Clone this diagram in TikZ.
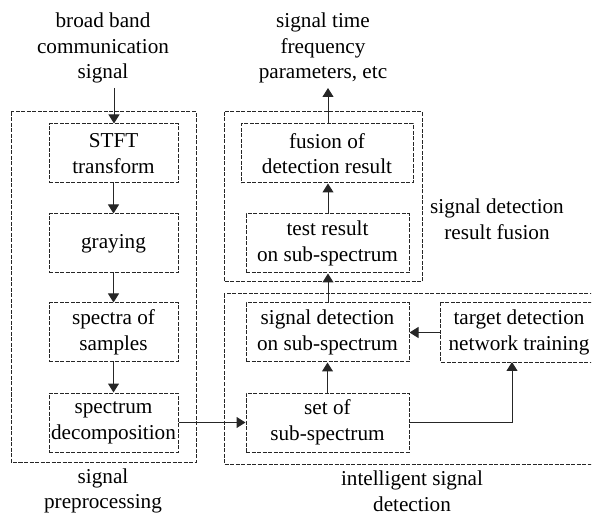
\documentclass[tikz,border=0pt]{standalone}
\usepackage{fontspec}
\setmainfont{Liberation Serif}
\usetikzlibrary{arrows.meta}
\begin{document}
\begin{tikzpicture}[x=1pt,y=-1pt,
  font=\fontsize{21.2}{25.6}\selectfont,
  dsh/.style={line width=1pt,dash pattern=on 4pt off 1.5pt,draw=black!85},
  blk/.style={dsh,draw,rectangle,inner sep=0pt,align=center,minimum height=59pt},
  lbl/.style={inner sep=0pt,align=center},
  arr/.style={line width=1pt,draw=black!85,-{Triangle[length=9pt,width=11pt]}}]
\useasboundingbox (0,0) rectangle (595,513);
% group frames
\draw[dsh] (11,112) rectangle (196,462);
\draw[dsh] (224,112) rectangle (422,282);
\begin{scope}
\clip (0,0) rectangle (591,513);
\draw[dsh] (224,294) rectangle (610,464);
\end{scope}
% blocks
\node[blk,minimum width=129pt] (stft) at (113.5,153.5) {STFT\\transform};
\node[blk,minimum width=129pt] (gray) at (113.5,243.5) {graying};
\node[blk,minimum width=129pt] (spec) at (113.5,332.5) {spectra of\\samples};
\node[blk,minimum width=129pt] (dec) at (113.5,422.5) {spectrum\\decomposition};
\node[blk,minimum width=172pt] (fus) at (327,153.5) {fusion of\\detection result};
\node[blk,minimum width=163pt] (test) at (327.5,243.5) {test result\\on sub-spectrum};
\node[blk,minimum width=163pt] (sdet) at (327.5,332.5) {signal detection\\on sub-spectrum};
\node[blk,minimum width=163pt] (set) at (327.5,422.5) {set of\\sub-spectrum};
\node[blk,draw=none,minimum width=156pt] (tgt) at (519,332.5) {target detection\\network training};
\begin{scope}
\clip (0,0) rectangle (591,513);
\draw[dsh] (tgt.north west) rectangle ([xshift=10pt]tgt.south east);
\end{scope}
% labels
\node[lbl] (in) at (103,48) {broad band\\communication\\signal};
\node[lbl] (out) at (323,48) {signal time\\frequency\\parameters, etc};
\node[lbl] (lfus) at (497,219.5) {signal detection\\result fusion};
\node[lbl] (lpre) at (103,491) {signal\\preprocessing};
\node[lbl] (lint) at (412,491) {intelligent signal\\detection};
\coordinate (inarr) at (114,88);
\coordinate (outarr) at (328,88);
\coordinate (tgtin) at (512,362);
% connectors
\draw[arr] (inarr) -- (inarr |- stft.north);
\draw[arr] (stft) -- (gray);
\draw[arr] (gray) -- (spec);
\draw[arr] (spec) -- (dec);
\draw[arr] (dec.east) -- (set.west);
\draw[arr] (set) -- (sdet);
\draw[arr] (sdet.north -| outarr) -- (test.south -| outarr);
\draw[arr] (test.north -| outarr) -- (fus.south -| outarr);
\draw[arr] (fus.north -| outarr) -- (outarr);
\draw[arr] (tgt.west) -- (sdet.east);
\draw[arr] (set.east) -| (tgtin);
\end{tikzpicture}
\end{document}
